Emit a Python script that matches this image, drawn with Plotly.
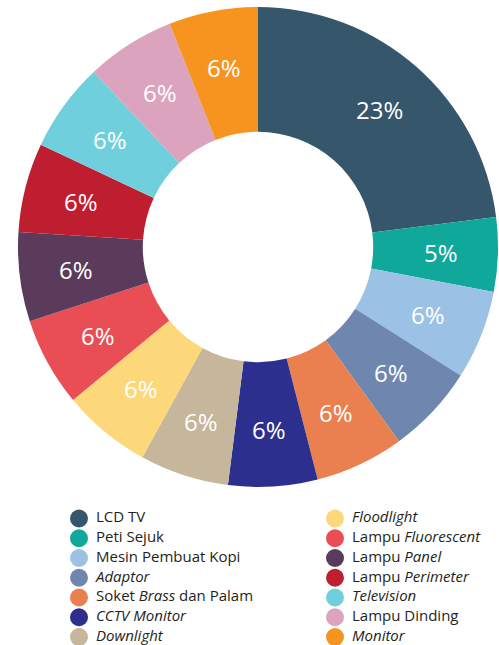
import math
import plotly.graph_objects as go

# Share of items by category (percent)
categories = [
    "LCD TV", "Peti Sejuk", "Mesin Pembuat Kopi", "<i>Adaptor</i>",
    "Soket <i>Brass</i> dan Palam", "<i>CCTV Monitor</i>", "<i>Downlight</i>",
    "<i>Floodlight</i>", "Lampu <i>Fluorescent</i>", "Lampu <i>Panel</i>",
    "Lampu <i>Perimeter</i>", "<i>Television</i>", "Lampu Dinding", "<i>Monitor</i>",
]
shares = [23, 5, 6, 6, 6, 6, 6, 6, 6, 6, 6, 6, 6, 6]
colors = [
    "#36566b", "#0fa89b", "#9bc2e4", "#6f87ae", "#ea7f50", "#2d2f8e", "#c5b69c",
    "#fcd87a", "#ea4e55", "#5b3b5b", "#be1e30", "#70cfdd", "#dca3bf", "#f6941f",
]

W, H = 499, 645
FONT = "Open Sans"

# donut geometry in page pixels
CX, CY, R_OUT = 258, 247, 240
HOLE = 0.48
R_LABEL = 183

fig = go.Figure()

# Donut
fig.add_trace(go.Pie(
    labels=categories,
    values=shares,
    marker=dict(colors=colors, line=dict(width=0)),
    hole=HOLE,
    sort=False,
    direction="clockwise",
    rotation=0,
    textinfo="none",
    showlegend=False,
    domain=dict(x=[(CX - R_OUT) / W, (CX + R_OUT) / W],
                y=[1 - (CY + R_OUT) / H, 1 - (CY - R_OUT) / H]),
))

# Percent labels at the middle of each slice (clockwise from 12 o'clock)
total = sum(shares)
cum = 0
for v in shares:
    a = 2 * math.pi * (cum + v / 2) / total
    fig.add_annotation(
        x=CX + R_LABEL * math.sin(a), y=CY - R_LABEL * math.cos(a),
        xref="x", yref="y", text=f"{v}%", showarrow=False,
        xanchor="center", yanchor="middle",
        font=dict(family=FONT, size=24, color="white", weight=500),
    )
    cum += v

# Two-column key below the donut
rows = 7
row0, step = 518.5, 19.75
col_marker_x = [79, 335]
col_text_x = [96, 352]
for c in range(2):
    idx = list(range(c * rows, (c + 1) * rows))
    ys = [row0 + i * step for i in range(rows)]
    fig.add_trace(go.Scatter(
        x=[col_marker_x[c]] * rows, y=ys, mode="markers",
        marker=dict(size=18, color=[colors[k] for k in idx], line=dict(width=0)),
        showlegend=False, hoverinfo="skip",
    ))
    fig.add_trace(go.Scatter(
        x=[col_text_x[c]] * rows, y=ys, mode="text",
        text=[categories[k] for k in idx], textposition="middle right",
        textfont=dict(family=FONT, size=15, color="#231f20"),
        showlegend=False, hoverinfo="skip",
    ))

fig.update_layout(
    width=W, height=H,
    margin=dict(l=0, r=0, t=0, b=0),
    paper_bgcolor="white", plot_bgcolor="rgba(0,0,0,0)",
    xaxis=dict(range=[0, W], visible=False, domain=[0, 1], fixedrange=True),
    yaxis=dict(range=[H, 0], visible=False, domain=[0, 1], fixedrange=True),
)

fig.write_html("out.html")
